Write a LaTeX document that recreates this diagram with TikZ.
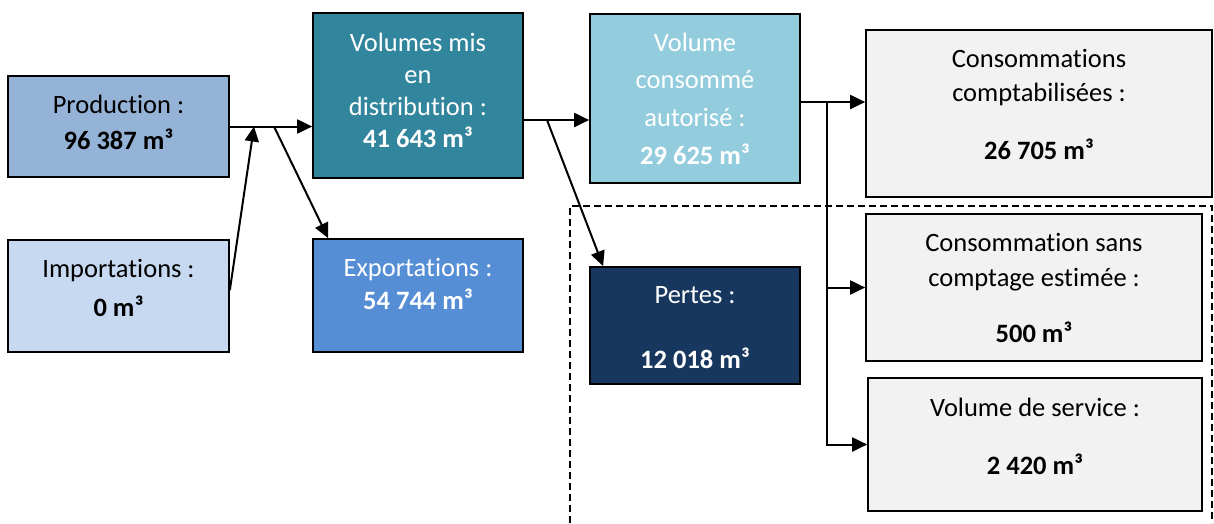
\documentclass[tikz,border=0pt]{standalone}
\usepackage{fontspec}
\setmainfont{Carlito}[Ligatures=NoCommon]
\usetikzlibrary{arrows.meta}
\definecolor{cprod}{HTML}{95B3D7}
\definecolor{cimp}{HTML}{C6D9F1}
\definecolor{cvol}{HTML}{31859C}
\definecolor{cexp}{HTML}{558ED5}
\definecolor{ccons}{HTML}{93CDDD}
\definecolor{cpert}{HTML}{17375E}
\definecolor{cgray}{HTML}{F2F2F2}
\tikzset{
  box/.style={draw=black, line width=1.7pt, rectangle, inner sep=0pt},
  txt/.style={align=center, inner sep=0pt, font=\fontsize{26.5}{#1}\selectfont},
  conn/.style={line width=2pt, -{Triangle[length=15pt,width=14pt]}},
  dashbox/.style={line width=1.3pt, dash pattern=on 7pt off 4pt}
}
\begin{document}
\begin{tikzpicture}[x=1pt,y=-1pt]
\useasboundingbox (0,0) rectangle (1214,523);
% dashed frame
\draw[dashbox] (570,523) -- (570,206) -- (1212,206) -- (1212,523);
% boxes
\node[box, fill=cprod, minimum width=221pt, minimum height=101pt] (prod) at (118.5,126.5) {};
\node[box, fill=cimp, minimum width=221pt, minimum height=112pt] (imp) at (118.5,296) {};
\node[box, fill=cvol, minimum width=210pt, minimum height=165pt] (vol) at (418,95.5) {};
\node[box, fill=cexp, minimum width=210pt, minimum height=113pt] (exp) at (418,295.5) {};
\node[box, fill=ccons, minimum width=210pt, minimum height=169pt] (cons) at (695,98.5) {};
\node[box, fill=cpert, minimum width=210pt, minimum height=117pt] (pert) at (695,325.5) {};
\node[box, fill=cgray, minimum width=346pt, minimum height=167pt] (comp) at (1039,113.5) {};
\node[box, fill=cgray, minimum width=336pt, minimum height=147pt] (sans) at (1034,287.5) {};
\node[box, fill=cgray, minimum width=334pt, minimum height=133pt] (serv) at (1035,444.5) {};
% texts
\node[txt=36] (tprod) at (118.5,122.5) {Production :\\\textbf{96 387 m³}};
\node[txt=39] (timp) at (118.5,287.5) {Importations :\\\textbf{0 m³}};
\node[txt=32, text=white] (tvol) at (418,90) {Volumes mis\\en\\distribution :\\\textbf{41 643 m³}};
\node[txt=33, text=white] (texp) at (418,283.5) {Exportations :\\\textbf{54 744 m³}};
\node[txt=37.7, text=white] (tcons) at (695,98.5) {Volume\\consommé\\autorisé :\\\textbf{29 625 m³}};
\node[txt=33, text=white] (tpert) at (695,327.5) {Pertes :\\[32pt]\textbf{12 018 m³}};
\node[txt=34] (tcomp) at (1039,104) {Consommations\\comptabilisées :\\[24pt]\textbf{26 705 m³}};
\node[txt=35] (tsans) at (1034,287.5) {Consommation sans\\comptage estimée :\\[21pt]\textbf{500 m³}};
\node[txt=34] (tserv) at (1035,436) {Volume de service :\\[24pt]\textbf{2 420 m³}};
% junctions
\coordinate (j1) at (254,126.5);
\coordinate (j2) at (274,126.5);
\coordinate (j3) at (547,120);
\coordinate (j4) at (827,102);
% connectors
\draw[conn] (prod.east) -- (prod.east -| vol.west);
\draw[conn] ([yshift=6pt]imp.east) -- (j1);
\draw[conn] (j2) -- ([xshift=16pt]exp.north west);
\draw[conn] (j3 -| vol.east) -- (j3 -| cons.west);
\draw[conn] (j3) -- ([xshift=14pt]pert.north west);
\draw[conn] (j4 -| cons.east) -- (j4 -| comp.west);
\draw[conn] (j4) |- (sans.west);
\draw[conn] (j4) |- (serv.west);
\end{tikzpicture}
\end{document}
